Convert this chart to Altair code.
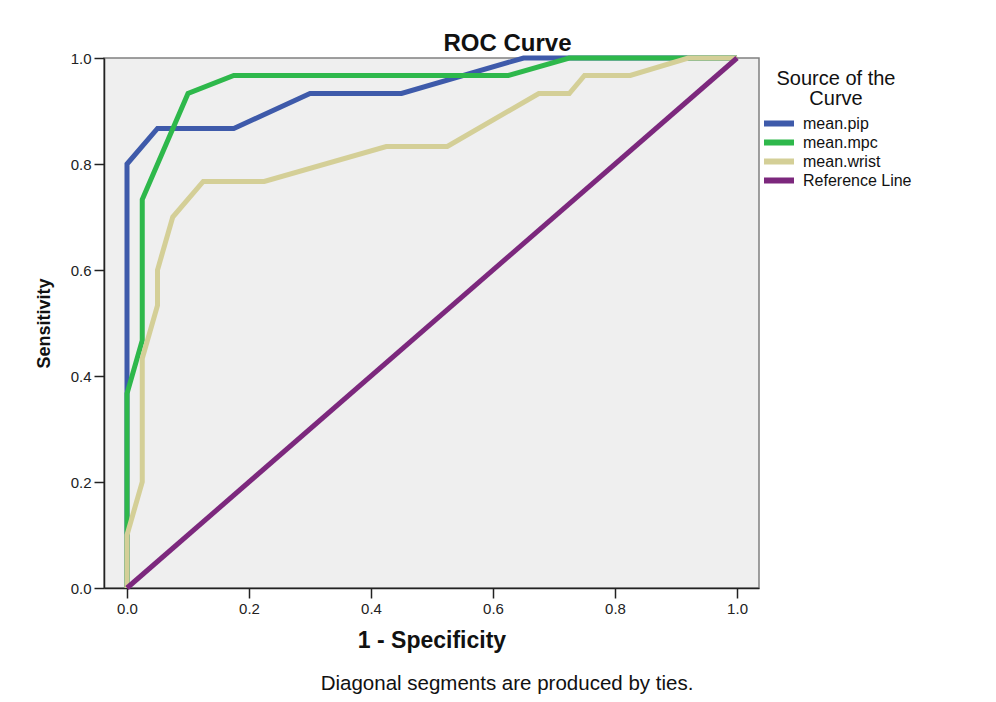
import altair as alt
import pandas as pd

series_names = ["mean.pip", "mean.mpc", "mean.wrist", "Reference Line"]
series_colors = ["#3e5aaa", "#2eb84b", "#d4cf97", "#7c287d"]

pip_x = [0.0, 0.0, 0.05, 0.175, 0.30, 0.45, 0.65, 1.0]
pip_y = [0.0, 0.80, 0.867, 0.867, 0.933, 0.933, 1.0, 1.0]

mpc_x = [0.0, 0.0, 0.025, 0.025, 0.10, 0.175, 0.625, 0.725, 1.0]
mpc_y = [0.0, 0.367, 0.467, 0.733, 0.933, 0.967, 0.967, 1.0, 1.0]

wrist_x = [0.0, 0.0, 0.025, 0.025, 0.05, 0.05, 0.075, 0.125, 0.225, 0.425,
           0.525, 0.675, 0.725, 0.75, 0.825, 0.92, 1.0]
wrist_y = [0.0, 0.1, 0.2, 0.433, 0.533, 0.6, 0.7, 0.767, 0.767, 0.833,
           0.833, 0.933, 0.933, 0.967, 0.967, 1.0, 1.0]

ref_x = [0.0, 1.0]
ref_y = [0.0, 1.0]

tick_values = [0.0, 0.2, 0.4, 0.6, 0.8, 1.0]
footnote = "Diagonal segments are produced by ties."

rows = []
for name, xs, ys in zip(series_names, [pip_x, mpc_x, wrist_x, ref_x],
                        [pip_y, mpc_y, wrist_y, ref_y]):
    for i, (a, b) in enumerate(zip(xs, ys)):
        rows.append({"series": name, "fpr": a, "tpr": b, "idx": i})
df = pd.DataFrame(rows)

FONT = "Liberation Sans"

color_enc = alt.Color(
    "series:N",
    scale=alt.Scale(domain=series_names, range=series_colors),
    legend=alt.Legend(
        orient="none", legendX=657, legendY=11,
        title=["Source of the", "Curve"], titleFont=FONT, titleFontSize=20,
        titleFontWeight="normal", titleColor="#111", titleAlign="center",
        titleAnchor="middle", titleLineHeight=20, titlePadding=5,
        labelFont=FONT, labelFontSize=16, labelColor="#111",
        symbolType="stroke", symbolStrokeWidth=6, symbolSize=900,
        clipHeight=19, rowPadding=0, labelOffset=6,
    ),
)

x_enc = alt.X(
    "fpr:Q",
    scale=alt.Scale(domain=[-0.0377, 1.036], nice=False, zero=False),
    axis=alt.Axis(values=tick_values, format=".1f", title="1 - Specificity",
                  titleFontSize=23, titleFontWeight="bold", titlePadding=13),
)
y_enc = alt.Y(
    "tpr:Q",
    scale=alt.Scale(domain=[0, 1], nice=False),
    axis=alt.Axis(values=tick_values, format=".1f", title="Sensitivity",
                  titleFontSize=18, titleFontWeight="bold", titlePadding=17),
)

layers = []
for name in series_names:
    layers.append(
        alt.Chart(df)
        .transform_filter(alt.datum.series == name)
        .mark_line(strokeWidth=5)
        .encode(x=x_enc, y=y_enc, color=color_enc, order="idx:Q")
    )

note = (
    alt.Chart(pd.DataFrame({"t": [footnote]}))
    .mark_text(font=FONT, fontSize=20.5, color="#111", align="center", baseline="alphabetic")
    .encode(text="t:N", x=alt.value(403), y=alt.value(632))
)

chart = (
    alt.layer(*layers, note)
    .properties(
        width=655, height=530,
        background="white",
        autosize=alt.AutoSizeParams(type="none"),
        padding={"left": 96, "top": 50, "right": 229, "bottom": 106},
        title=alt.TitleParams("ROC Curve", font=FONT, fontSize=24, fontWeight="bold",
                              anchor="middle", dx=76, offset=-8, color="#111"),
    )
    .configure_view(fill="#efefef", stroke="#808080", strokeWidth=1.5)
    .configure_axis(
        grid=False, domainColor="#222", domainWidth=1.5, tickColor="#222",
        tickWidth=1.5, tickSize=10, labelFont=FONT, labelFontSize=15,
        labelColor="#222", titleFont=FONT, titleColor="#111", labelPadding=3,
    )
)

chart.save("out.html", embed_options={"renderer": "svg", "actions": False})
